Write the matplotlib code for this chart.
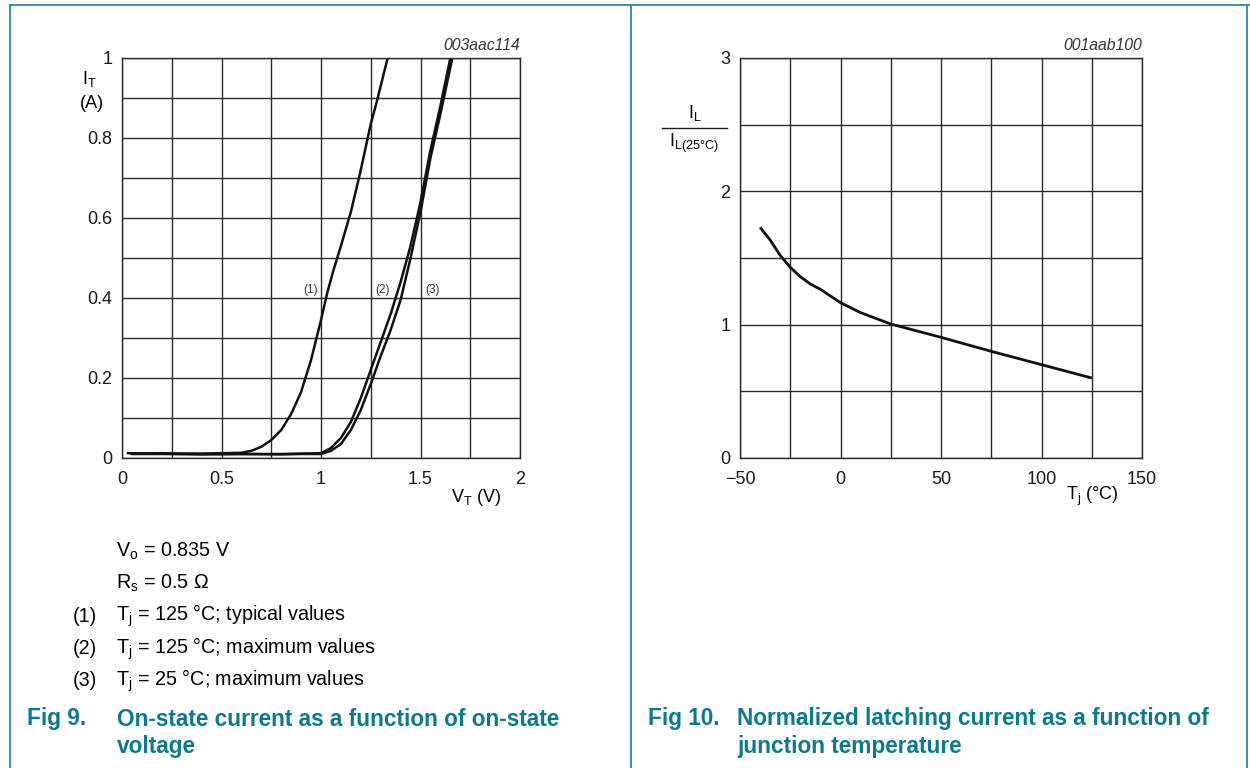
import matplotlib
matplotlib.use("Agg")
import matplotlib.pyplot as plt
from matplotlib.lines import Line2D

plt.rcParams['font.family'] = ['Liberation Sans', 'DejaVu Sans']
plt.rcParams['mathtext.default'] = 'regular'

W, H = 1250, 768

# ---------------- data ----------------
# Fig 9: on-state current vs on-state voltage
v1 = [0.03, 0.1, 0.2, 0.3, 0.4, 0.5, 0.6, 0.65, 0.7, 0.75, 0.8, 0.85, 0.9, 0.95,
      1.0, 1.03, 1.06, 1.1, 1.15, 1.2, 1.25, 1.28, 1.31, 1.335]
i1 = [0.012, 0.011, 0.012, 0.011, 0.011, 0.012, 0.013, 0.018, 0.028, 0.045, 0.07,
      0.11, 0.165, 0.245, 0.345, 0.41, 0.465, 0.53, 0.615, 0.72, 0.835, 0.89, 0.95, 1.0]
v2 = [0.05, 0.2, 0.4, 0.6, 0.8, 0.9, 1.0, 1.05, 1.1, 1.15, 1.2, 1.25, 1.3, 1.35,
      1.4, 1.45, 1.5, 1.55, 1.6, 1.65]
i2 = [0.011, 0.011, 0.01, 0.01, 0.01, 0.011, 0.012, 0.025, 0.05, 0.09, 0.15, 0.22,
      0.29, 0.36, 0.44, 0.53, 0.64, 0.77, 0.88, 1.0]
v3 = [0.05, 0.2, 0.4, 0.6, 0.8, 0.9, 1.0, 1.05, 1.1, 1.15, 1.2, 1.25, 1.3, 1.35,
      1.4, 1.45, 1.5, 1.55, 1.6, 1.66]
i3 = [0.01, 0.01, 0.009, 0.01, 0.009, 0.01, 0.01, 0.018, 0.035, 0.07, 0.12, 0.185,
      0.255, 0.32, 0.395, 0.5, 0.615, 0.75, 0.86, 1.0]
curve_labels = ['(1)', '(2)', '(3)']
curve_label_x = [0.95, 1.307, 1.558]
curve_label_y = [0.42, 0.42, 0.42]
x1_ticks = [0, 0.5, 1, 1.5, 2]
x1_ticklabels = ['0', '0.5', '1', '1.5', '2']
y1_ticks = [0, 0.2, 0.4, 0.6, 0.8, 1]
y1_ticklabels = ['0', '0.2', '0.4', '0.6', '0.8', '1']

# Fig 10: normalized latching current vs junction temperature
tj = [-40, -35, -30, -25, -20, -15, -10, -5, 0, 10, 25, 50, 75, 100, 125]
il = [1.73, 1.635, 1.52, 1.43, 1.36, 1.305, 1.265, 1.215, 1.165, 1.09, 1.005, 0.905, 0.80, 0.70, 0.60]
x2_ticks = [-50, 0, 50, 100, 150]
x2_ticklabels = ['\u221250', '0', '50', '100', '150']
y2_ticks = [0, 1, 2, 3]
y2_ticklabels = ['0', '1', '2', '3']

notes = ['V$_o$ = 0.835 V', 'R$_s$ = 0.5 \u03a9']
cond_nums = ['(1)', '(2)', '(3)']
cond_texts = ['T$_j$ = 125 \u00b0C; typical values',
              'T$_j$ = 125 \u00b0C; maximum values',
              'T$_j$ = 25 \u00b0C; maximum values']

# ---------------- figure ----------------
fig = plt.figure(figsize=(W / 100, H / 100), dpi=100)
fig.patch.set_facecolor('white')

def fx(px):
    return px / W

def fy(py):
    return 1 - py / H

def ax_rect(l, r, t, b):
    return [fx(l), fy(b), fx(r) - fx(l), fy(t) - fy(b)]

border = '#2b8ba2'
cap_col = '#0a7b8f'
gcol = '#2a2a2a'
TICK_FS = 13
LAB_FS = 13
NOTE_FS = 14.2
CAP_FS = 16.3

# frame lines
fig.add_artist(Line2D([fx(10), fx(1250)], [fy(5), fy(5)], color=border, lw=1.3))
fig.add_artist(Line2D([fx(10), fx(10)], [fy(5), fy(768)], color=border, lw=1.3))
fig.add_artist(Line2D([fx(631), fx(631)], [fy(5), fy(768)], color=border, lw=1.3))
fig.add_artist(Line2D([fx(1247), fx(1247)], [fy(5), fy(768)], color=border, lw=1.3))

def style_axes(ax):
    for s in ax.spines.values():
        s.set_color(gcol)
        s.set_linewidth(1.0)
    ax.tick_params(length=0, labelsize=TICK_FS, colors='#1a1a1a')
    ax.grid(True, which='both', color=gcol, lw=1.0)
    ax.set_axisbelow(True)
    ax.tick_params(axis='x', pad=9)
    ax.tick_params(axis='y', pad=7)
    ax.tick_params(which='minor', length=0)

# ---- Fig 9 axes ----
ax1 = fig.add_axes(ax_rect(122, 520, 58, 458))
ax1.set_xlim(0, 2)
ax1.set_ylim(0, 1)
ax1.set_xticks([0.25 * k for k in range(9)], minor=True)
ax1.set_yticks([0.1 * k for k in range(11)], minor=True)
ax1.set_xticks(x1_ticks)
ax1.set_xticklabels(x1_ticklabels)
ax1.set_yticks(y1_ticks)
ax1.set_yticklabels(y1_ticklabels)
style_axes(ax1)
for v, i in ((v1, i1), (v2, i2), (v3, i3)):
    ax1.plot(v, i, color='#111111', lw=1.8, solid_joinstyle='round')
for lab, lx, ly in zip(curve_labels, curve_label_x, curve_label_y):
    ax1.text(lx, ly, lab, fontsize=8.5, ha='center', va='center', color='#333333')
fig.text(fx(520), fy(46), '003aac114', ha='right', va='center',
         fontsize=11.3, style='italic', color='#333333')
fig.text(fx(89), fy(79), 'I$_T$', fontsize=LAB_FS, ha='center', va='center')
fig.text(fx(92), fy(104), '(A)', fontsize=LAB_FS, ha='center', va='center')
fig.text(fx(476), fy(497), 'V$_T$ (V)', fontsize=LAB_FS, ha='center', va='center')

# ---- Fig 10 axes ----
ax2 = fig.add_axes(ax_rect(740, 1142, 58, 458))
ax2.set_xlim(-50, 150)
ax2.set_ylim(0, 3)
ax2.set_xticks([-50 + 25 * k for k in range(9)], minor=True)
ax2.set_yticks([0.5 * k for k in range(7)], minor=True)
ax2.set_xticks(x2_ticks)
ax2.set_xticklabels(x2_ticklabels)
ax2.set_yticks(y2_ticks)
ax2.set_yticklabels(y2_ticklabels)
style_axes(ax2)
ax2.plot(tj, il, color='#111111', lw=2.0, solid_capstyle='butt', solid_joinstyle='round')
fig.text(fx(1142), fy(46), '001aab100', ha='right', va='center',
         fontsize=11.3, style='italic', color='#333333')
fig.text(fx(695), fy(113), 'I$_L$', fontsize=LAB_FS, ha='center', va='center')
fig.add_artist(Line2D([fx(662), fx(727)], [fy(128), fy(128)], color='#1a1a1a', lw=1.0))
fig.text(fx(694), fy(143), 'I$_{L(25\u00b0C)}$', fontsize=LAB_FS, ha='center', va='center')
fig.text(fx(1092), fy(496), 'T$_j$ (\u00b0C)', fontsize=LAB_FS, ha='center', va='center')

# ---- notes ----
fig.text(fx(116), fy(551), notes[0], fontsize=NOTE_FS, ha='left', va='center')
fig.text(fx(116), fy(583), notes[1], fontsize=NOTE_FS, ha='left', va='center')
for k, (n, t) in enumerate(zip(cond_nums, cond_texts)):
    y = 616 + 32.5 * k
    fig.text(fx(73), fy(y), n, fontsize=NOTE_FS, ha='left', va='center')
    fig.text(fx(116), fy(y), t, fontsize=NOTE_FS, ha='left', va='center')

# ---- captions ----
cap = dict(fontsize=CAP_FS, fontweight='bold', color=cap_col, ha='left', va='center')
fig.text(fx(27), fy(719), 'Fig 9.', **cap)
fig.text(fx(117), fy(719), 'On-state current as a function of on-state', **cap)
fig.text(fx(117), fy(747), 'voltage', **cap)
fig.text(fx(648), fy(719), 'Fig 10.', **cap)
fig.text(fx(737), fy(719), 'Normalized latching current as a function of', **cap)
fig.text(fx(737), fy(747), 'junction temperature', **cap)

fig.savefig('out.png', dpi=100, facecolor='white')
